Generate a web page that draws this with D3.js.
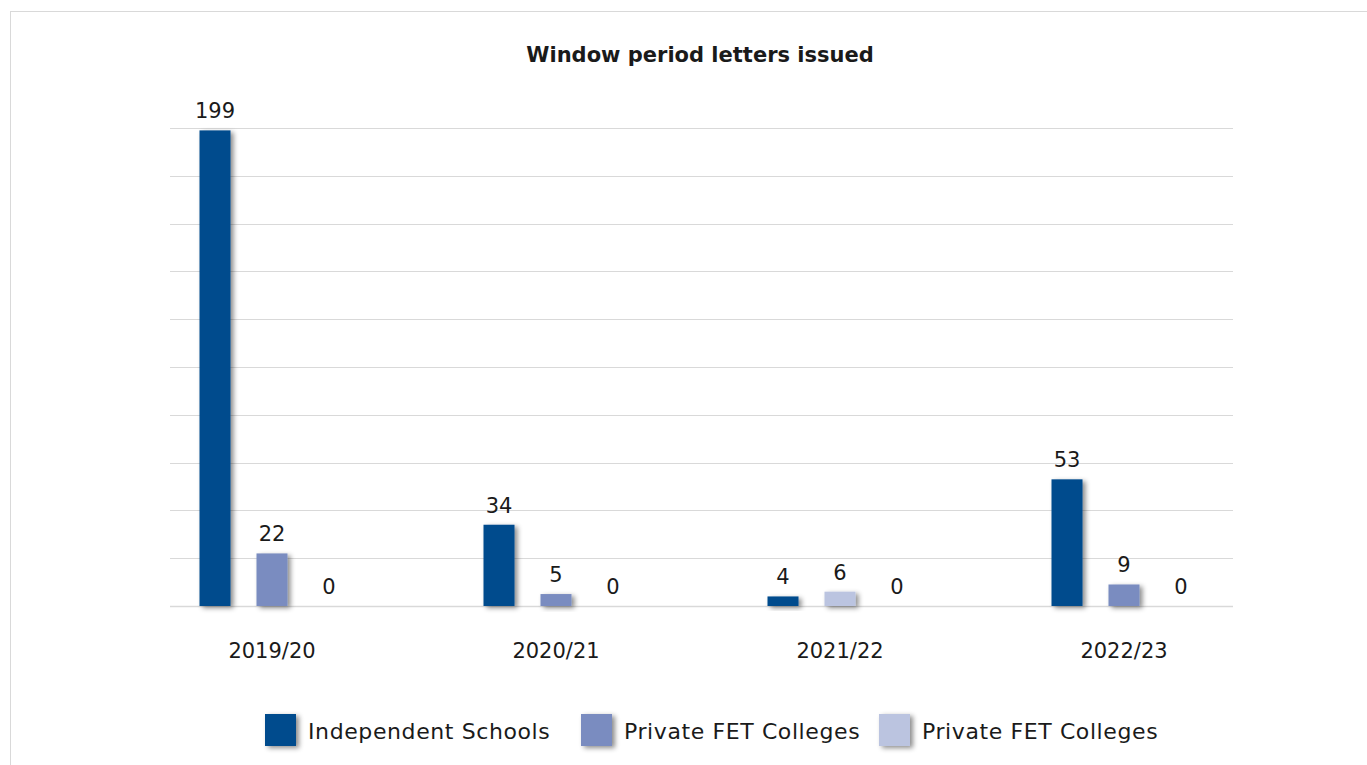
<!DOCTYPE html>
<html>
<head>
<meta charset="utf-8">
<script src="https://cdn.jsdelivr.net/npm/d3@7"></script>
<style>
  html, body { margin: 0; padding: 0; background: #fff; overflow: hidden; }
  svg { display: block; }
  text { font-family: "Century Gothic", "DejaVu Sans", sans-serif; fill: #1a1a1a; }
</style>
</head>
<body>
<svg id="chart" width="1367" height="765"></svg>
<script>
// ---- data ----
const title = "Window period letters issued";
const categories = ["2019/20", "2020/21", "2021/22", "2022/23"];
const seriesNames = ["Independent Schools", "Private FET Colleges", "Private FET Colleges"];
const independentSchools = [199, 34, 4, 53];
const privateFET = [22, 5, 6, 9];
const privateFET2 = [0, 0, 0, 0];
const seriesColors = ["#004B8D", "#7A8CC0", "#BBC4E0"];
// per-point colour override: [seriesIndex, categoryIndex, colourIndex]
const pointColorOverrides = [[1, 2, 2]];
const yTicks = [0, 20, 40, 60, 80, 100, 120, 140, 160, 180, 200];

const seriesValues = [independentSchools, privateFET, privateFET2];

const svg = d3.select("#chart");

// shadow filter
const defs = svg.append("defs");
const f = defs.append("filter").attr("id", "shadow")
  .attr("x", "-30%").attr("y", "-30%").attr("width", "180%").attr("height", "180%");
f.append("feDropShadow").attr("dx", 3).attr("dy", 2).attr("stdDeviation", 2.6)
  .attr("flood-color", "#000").attr("flood-opacity", 0.45);

// outer frame
svg.append("rect").attr("x", 10.5).attr("y", 11.5).attr("width", 1420).attr("height", 800)
  .attr("fill", "#fff").attr("stroke", "#d9d9d9").attr("stroke-width", 1);

// scales
const x0 = d3.scaleBand().domain(categories).range([130, 1266]);
const x1 = d3.scaleBand().domain(d3.range(seriesNames.length))
  .range([x0.bandwidth() / 2 - 72.5, x0.bandwidth() / 2 + 72.5])
  .paddingInner(0.456).paddingOuter(0);
const y = d3.scaleLinear().domain([0, 200]).range([606, 128]);

// gridlines
const gridL = 170, gridR = 1233;
svg.append("g").selectAll("line").data(yTicks).join("line")
  .attr("x1", gridL).attr("x2", gridR)
  .attr("y1", d => Math.round(y(d)) + 0.5).attr("y2", d => Math.round(y(d)) + 0.5)
  .attr("stroke", "#d9d9d9").attr("stroke-width", d => d === 0 ? 1.5 : 1);

// title
svg.append("text").attr("x", 700).attr("y", 62).attr("text-anchor", "middle")
  .attr("font-size", 21).attr("font-weight", "bold").text(title);

// bars
const data = [];
seriesValues.forEach((vals, s) => vals.forEach((v, c) => {
  let col = seriesColors[s];
  pointColorOverrides.forEach(o => { if (o[0] === s && o[1] === c) col = seriesColors[o[2]]; });
  data.push({ s, c, v, col });
}));

const g = svg.append("g");
g.selectAll("rect").data(data.filter(d => d.v > 0)).join("rect")
  .attr("x", d => x0(categories[d.c]) + x1(d.s))
  .attr("y", d => y(d.v))
  .attr("width", x1.bandwidth())
  .attr("height", d => y(0) - y(d.v))
  .attr("fill", d => d.col)
  .attr("filter", "url(#shadow)");

// value labels
g.selectAll("text.val").data(data).join("text").attr("class", "val")
  .attr("x", d => x0(categories[d.c]) + x1(d.s) + x1.bandwidth() / 2)
  .attr("y", d => y(d.v) - 12)
  .attr("text-anchor", "middle").attr("font-size", 21)
  .text(d => d.v);

// category axis
const xAxis = svg.append("g").attr("transform", "translate(0,606)")
  .call(d3.axisBottom(x0).tickSize(0).tickPadding(37));
xAxis.select(".domain").remove();
xAxis.selectAll("text").attr("font-size", 21).attr("fill", "#1a1a1a")
  .style("font-family", "'Century Gothic', 'DejaVu Sans', sans-serif");

// legend
const legendItems = [
  { name: seriesNames[0], col: seriesColors[0], x: 265 },
  { name: seriesNames[1], col: seriesColors[1], x: 581 },
  { name: seriesNames[2], col: seriesColors[2], x: 879 }
];
const lg = svg.append("g");
legendItems.forEach(it => {
  lg.append("rect").attr("x", it.x).attr("y", 714).attr("width", 31).attr("height", 32)
    .attr("fill", it.col).attr("filter", "url(#shadow)");
  lg.append("text").attr("x", it.x + 43).attr("y", 739).attr("font-size", 22)
    .attr("letter-spacing", 0.6).text(it.name);
});
</script>
</body>
</html>
